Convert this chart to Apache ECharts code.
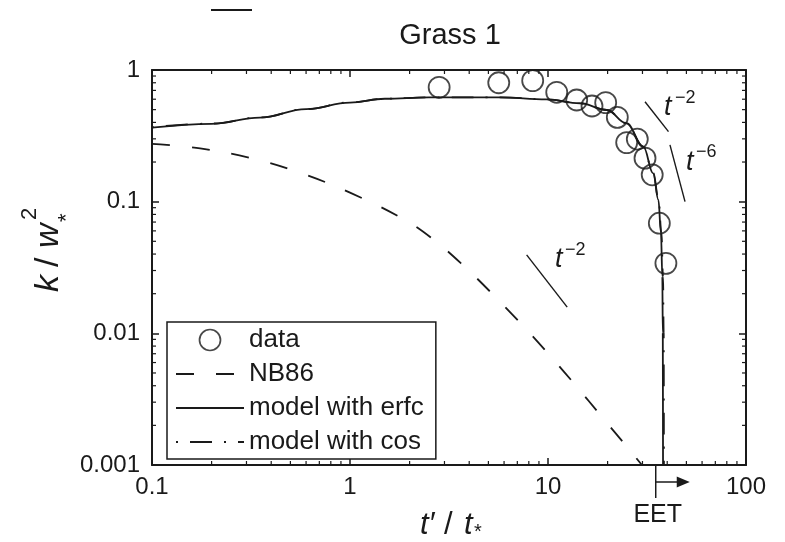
<!DOCTYPE html>
<html>
<head>
<meta charset="utf-8">
<script src="https://cdn.jsdelivr.net/npm/echarts@6/dist/echarts.min.js"></script>
<style>
  html, body { margin: 0; padding: 0; background: #ffffff; }
  #chart { width: 785px; height: 542px; }
</style>
</head>
<body>
<div id="chart"></div>
<script>
// Grass 1: normalised turbulent kinetic energy k / w*^2 against time t' / t*

const INK = '#1a1a1a';
const FONT = '"Liberation Sans", Arial, Helvetica, "DejaVu Sans", sans-serif';

// Measured decay (circles)
const dataT = [2.82, 5.64, 8.37, 11.07, 13.96, 16.68, 19.56, 22.39, 24.97, 28.25, 30.9, 33.6, 36.5, 39.4];
const dataK = [0.739, 0.80, 0.83, 0.677, 0.592, 0.533, 0.565, 0.437, 0.281, 0.299, 0.214, 0.160, 0.0686, 0.034];

// NB86 prediction
const nbT = [0.1, 0.175, 0.313, 0.558, 1.0, 1.87, 2.61, 3.70, 5.33, 7.69, 10.3, 13.8, 18.5, 25.1, 29.8];
const nbK = [0.275, 0.254, 0.215, 0.166, 0.117, 0.0735, 0.0523, 0.0332, 0.0194, 0.0109, 0.00669, 0.00402, 0.00237, 0.00137, 0.001];

// Model with erfc
const erfcT = [0.1, 0.2, 0.35, 0.6, 1.0, 1.5, 2.5, 5.7, 9.84, 14.5, 19.8, 24.9, 30.3, 34.0, 36.1, 37.2, 37.8, 38.0, 38.1];
const erfcK = [0.365, 0.39, 0.435, 0.505, 0.566, 0.605, 0.62, 0.62, 0.599, 0.559, 0.497, 0.394, 0.262, 0.164, 0.103, 0.058, 0.027, 0.010, 0.001];

// Model with cos
const cosT = [0.1, 0.2, 0.35, 0.6, 1.0, 1.5, 2.5, 5.7, 9.84, 14.5, 19.8, 24.9, 30.3, 34.0, 36.2, 37.4, 38.1, 38.4, 38.5];
const cosK = [0.367, 0.392, 0.436, 0.505, 0.567, 0.605, 0.62, 0.62, 0.599, 0.559, 0.497, 0.394, 0.262, 0.165, 0.104, 0.058, 0.027, 0.010, 0.001];

// Power-law guide segments [t, k] pairs
const slopeUpper = [[30.9, 0.574], [40.6, 0.340]];   // t^-2
const slopeSteep = [[41.3, 0.270], [49.2, 0.100]];   // t^-6
const slopeLower = [[7.80, 0.0394], [12.5, 0.0158]]; // t^-2

// End of energy transfer
const eetT = [35];

// Axis ranges and tick labels
const X_MIN = 0.1, X_MAX = 100, Y_MIN = 0.001, Y_MAX = 1;
const xTickLabels = ['0.1', '1', '10', '100'];
const yTickLabels = ['0.001', '0.01', '0.1', '1'];

const zip = (a, b) => a.map((v, i) => [v, b[i]]);

function minorValues(lo, hi) {
  const out = [];
  for (let e = Math.round(Math.log10(lo)); e < Math.round(Math.log10(hi)); e++) {
    for (let m = 2; m <= 9; m++) out.push(+(m * Math.pow(10, e)).toPrecision(3));
  }
  return out;
}
const xMinor = minorValues(X_MIN, X_MAX);
const yMinor = minorValues(Y_MIN, Y_MAX);

const MINOR_LEN = 4;

function logAxis(min, max, position, labels, showLabels, margin) {
  return {
    type: 'log', logBase: 10, min: min, max: max, position: position,
    axisLine: { show: true, onZero: false, lineStyle: { color: INK, width: 2 } },
    axisTick: { show: true, inside: true, length: 7, lineStyle: { color: INK, width: 1.5 } },
    axisLabel: {
      show: showLabels, fontSize: 24, color: INK, fontFamily: FONT, margin: margin,
      formatter: v => labels[Math.round(Math.log10(v) - Math.log10(min))]
    },
    splitLine: { show: false },
    minorTick: { show: false }
  };
}

function lineSeries(name, data, type, monotone) {
  return {
    name: name, type: 'line', data: data, symbol: 'none',
    smooth: 0.4, smoothMonotone: monotone,
    lineStyle: { color: INK, width: 1.8, type: type },
    itemStyle: { color: INK },
    z: 3, silent: true
  };
}

function guideSeries(name, data) {
  return {
    name: name, type: 'line', data: data, symbol: 'none',
    lineStyle: { color: INK, width: 1.4 }, z: 2, silent: true
  };
}

const chart = echarts.init(document.getElementById('chart'), null, { renderer: 'canvas' });

const plain = (x, y, text, fs) => ({
  type: 'text', x: x, y: y,
  style: { text: text, font: fs + 'px ' + FONT, fill: INK, verticalAlign: 'top' }
});
const ital = (x, y, text, fs) => ({
  type: 'text', x: x, y: y,
  style: { text: text, font: 'italic ' + fs + 'px ' + FONT, fill: INK, verticalAlign: 'top' }
});

const lineOnlyIcon = { itemStyle: { opacity: 0, color: 'rgba(0,0,0,0)', borderWidth: 0 } };

const option = {
  animation: false,
  backgroundColor: '#ffffff',
  title: {
    text: 'Grass 1', left: 445, top: 16, textAlign: 'center',
    textStyle: { fontSize: 29, fontWeight: 'normal', color: INK, fontFamily: FONT }
  },
  grid: { left: 152, right: 39, top: 70, bottom: 77, containLabel: false },
  xAxis: [
    logAxis(X_MIN, X_MAX, 'bottom', xTickLabels, true, 10),
    logAxis(X_MIN, X_MAX, 'top', xTickLabels, false, 10)
  ],
  yAxis: [
    logAxis(Y_MIN, Y_MAX, 'left', yTickLabels, true, 12),
    logAxis(Y_MIN, Y_MAX, 'right', yTickLabels, false, 12)
  ],
  legend: {
    orient: 'vertical', left: 167, top: 322,
    data: [
      { name: 'data', icon: 'circle', itemStyle: { color: 'rgba(0,0,0,0)', borderColor: INK, borderWidth: 1.7 } },
      Object.assign({ name: 'NB86' }, lineOnlyIcon),
      Object.assign({ name: 'model with erfc' }, lineOnlyIcon),
      Object.assign({ name: 'model with cos' }, lineOnlyIcon)
    ],
    itemWidth: 68, itemHeight: 21, itemGap: 8,
    textStyle: { fontSize: 26, color: INK, fontFamily: FONT },
    borderColor: INK, borderWidth: 1.5, padding: [5, 12, 4, 8],
    selectedMode: false, backgroundColor: '#ffffff'
  },
  series: [
    {
      name: 'data', type: 'scatter', data: zip(dataT, dataK),
      symbol: 'circle', symbolSize: 21,
      itemStyle: { color: 'rgba(0,0,0,0)', borderColor: INK, borderWidth: 1.8 },
      z: 5, silent: true
    },
    lineSeries('NB86', zip(nbT, nbK), [18, 22], null),
    lineSeries('model with erfc', zip(erfcT, erfcK), 'solid', 'x'),
    lineSeries('model with cos', zip(cosT, cosK), [2, 12, 22, 12], 'x'),
    guideSeries('guide t^-2 upper', slopeUpper),
    guideSeries('guide t^-6', slopeSteep),
    guideSeries('guide t^-2 lower', slopeLower),
    {
      // minor ticks on the bottom and top edges
      name: 'x minor ticks', type: 'custom', clip: false, silent: true, z: 4,
      data: xMinor.map(v => [v, Y_MIN]),
      renderItem: (params, api) => {
        const b = api.coord([api.value(0), Y_MIN]);
        const t = api.coord([api.value(0), Y_MAX]);
        const ls = { stroke: INK, lineWidth: 1.2 };
        return { type: 'group', children: [
          { type: 'line', shape: { x1: b[0], y1: b[1], x2: b[0], y2: b[1] - MINOR_LEN }, style: ls },
          { type: 'line', shape: { x1: t[0], y1: t[1], x2: t[0], y2: t[1] + MINOR_LEN }, style: ls }
        ] };
      }
    },
    {
      // minor ticks on the left and right edges
      name: 'y minor ticks', type: 'custom', clip: false, silent: true, z: 4,
      data: yMinor.map(v => [X_MIN, v]),
      renderItem: (params, api) => {
        const l = api.coord([X_MIN, api.value(1)]);
        const r = api.coord([X_MAX, api.value(1)]);
        const ls = { stroke: INK, lineWidth: 1.2 };
        return { type: 'group', children: [
          { type: 'line', shape: { x1: l[0], y1: l[1], x2: l[0] + MINOR_LEN, y2: l[1] }, style: ls },
          { type: 'line', shape: { x1: r[0], y1: r[1], x2: r[0] - MINOR_LEN, y2: r[1] }, style: ls }
        ] };
      }
    },
    {
      // EET marker under the time axis
      name: 'EET', type: 'custom', clip: false, silent: true, z: 4,
      data: eetT.map(v => [v, Y_MIN]),
      renderItem: (params, api) => {
        const p = api.coord([api.value(0), Y_MIN]);
        const x = p[0], y = p[1];
        const ls = { stroke: INK, lineWidth: 1.5 };
        return { type: 'group', children: [
          { type: 'line', shape: { x1: x, y1: y, x2: x, y2: y + 33 }, style: ls },
          { type: 'line', shape: { x1: x, y1: y + 17, x2: x + 24, y2: y + 17 }, style: ls },
          { type: 'polygon', shape: { points: [[x + 21, y + 11.5], [x + 34, y + 17], [x + 21, y + 22.5]] }, style: { fill: INK } },
          { type: 'text', x: x + 2, y: y + 38, style: { text: 'EET', font: '25px ' + FONT, fill: INK, align: 'center', verticalAlign: 'top' } }
        ] };
      }
    }
  ],
  graphic: [
    // short rule above the title
    { type: 'line', shape: { x1: 211, y1: 10, x2: 252, y2: 10 }, style: { stroke: INK, lineWidth: 2 } },
    // y axis title: k / w*^2
    {
      type: 'group', x: 62, y: 292, rotation: Math.PI / 2,
      children: [
        ital(0, -30, 'k', 34),
        plain(25, -30, '/', 34),
        ital(44, -30, 'w', 34),
        plain(72, -43, '2', 22),
        plain(70, -6, '*', 22)
      ]
    },
    // x axis title: t' / t*
    {
      type: 'group', x: 420, y: 510,
      children: [
        ital(0, 0, 't', 31),
        plain(10, 0, '\u2032', 31),
        plain(24, 0, '/', 31),
        ital(44, 0, 't', 31),
        plain(54, 12, '*', 20)
      ]
    },
    // slope annotations
    ital(664, 94, 't', 27), plain(675, 89, '\u22122', 18),
    ital(686, 149, 't', 27), plain(696, 143, '\u22126', 18),
    ital(555, 246, 't', 27), plain(565, 241, '\u22122', 18)
  ]
};

chart.setOption(option);
</script>
</body>
</html>
